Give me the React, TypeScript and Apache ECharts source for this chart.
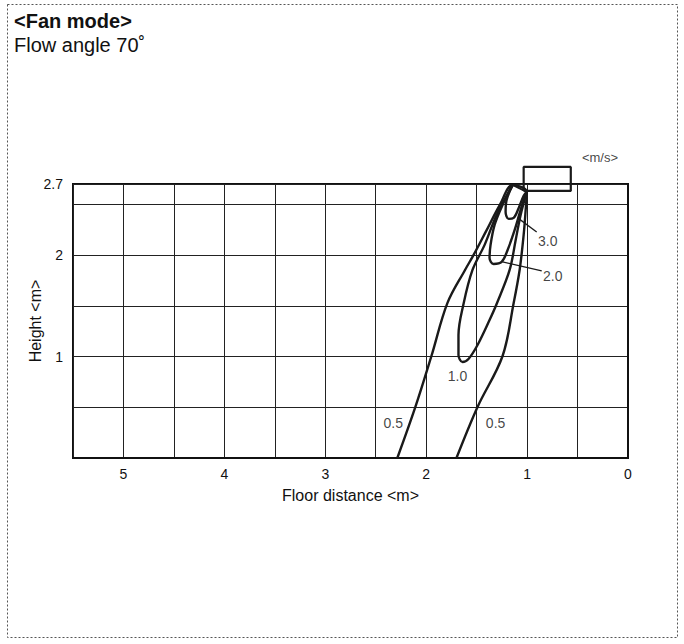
import React, { useEffect, useRef } from "react";
import * as echarts from "echarts";

// Axis tick labels shown
const xTickLabels = ["0", "1", "2", "3", "4", "5"];
const yTickLabels = ["1", "2", "2.7"];

// Velocity contours: [floor distance (m), height (m)]
const contour05: number[][] = [
  [2.286, 0], [2.107, 0.503], [1.948, 1.005], [1.789, 1.528], [1.615, 1.853],
  [1.53, 2.001], [1.41, 2.228], [1.27, 2.494], [1.143, 2.691],
  [1.004, 2.622], [1.014, 2.445], [1.034, 2.198], [1.074, 1.853],
  [1.133, 1.528], [1.243, 1.005], [1.491, 0.503], [1.7, 0],
];
const contour10: number[][] = [
  [1.143, 2.691], [1.302, 2.395], [1.421, 2.1], [1.541, 1.853], [1.63, 1.518],
  [1.68, 1.212], [1.68, 1.015], [1.64, 0.946], [1.581, 0.976], [1.491, 1.114],
  [1.372, 1.36], [1.302, 1.518], [1.173, 1.853], [1.113, 2.149], [1.064, 2.395],
  [1.004, 2.622],
];
const contour20: number[][] = [
  [1.143, 2.691], [1.243, 2.494], [1.322, 2.297], [1.362, 2.1], [1.372, 1.971],
  [1.332, 1.912], [1.252, 1.932], [1.193, 2.05], [1.123, 2.247], [1.064, 2.445],
  [1.004, 2.622],
];
const contour30: number[][] = [
  [1.143, 2.691], [1.203, 2.543], [1.213, 2.425], [1.183, 2.356], [1.133, 2.366],
  [1.083, 2.464], [1.034, 2.583], [1.004, 2.622],
];
const apexLink: number[][] = [[1.143, 2.691], [1.004, 2.622]];

// Leader lines for labels
const leader30: number[][] = [[1.093, 2.366], [0.905, 2.228]];
const leader20: number[][] = [[1.243, 1.932], [0.855, 1.843]];

// Contour labels
const contourLabels = [
  { name: "3.0", value: [0.795, 2.139] },
  { name: "2.0", value: [0.746, 1.794] },
  { name: "1.0", value: [1.69, 0.808] },
  { name: "0.5", value: [2.326, 0.345] },
  { name: "0.5", value: [1.312, 0.345] },
];
const unitLabel = [{ name: "<m/s>", value: [0.278, 2.957] }];

// Indoor unit outline
const unitOutline: number[][] = [
  [1.034, 2.632], [1.034, 2.868], [0.567, 2.868], [0.567, 2.632], [1.034, 2.632],
];

const FONT = "'Liberation Sans', Arial, Helvetica, sans-serif";

export default function App() {
  const ref = useRef<HTMLDivElement>(null);
  useEffect(() => {
    if (!ref.current) return;
    const chart = echarts.init(ref.current, undefined, { renderer: "svg" });
    const contourStyle = { color: "#1a1a1a", width: 2.4 };
    const mkContour = (data: number[][]) => ({
      type: "line",
      data,
      smooth: 0.35,
      symbol: "none",
      lineStyle: contourStyle,
      silent: true,
      z: 5,
    });
    const fmt = (labels: string[]) => (v: number) => {
      const s = String(Math.round(v * 100) / 100);
      return labels.indexOf(s) >= 0 ? s : "";
    };
    chart.setOption({
      animation: false,
      textStyle: { fontFamily: FONT },
      title: {
        left: 9,
        top: 6,
        text: "<Fan mode>",
        textStyle: { fontSize: 20, fontWeight: "bold", color: "#111", fontFamily: FONT },
        subtext: "Flow angle 70˚",
        subtextStyle: { fontSize: 20, color: "#111", fontFamily: FONT },
        itemGap: 4,
      },
      graphic: [
        {
          type: "rect",
          shape: { x: 7.5, y: 4.5, width: 670, height: 633 },
          style: { fill: "none", stroke: "#555", lineWidth: 1, lineDash: [2, 2] },
          silent: true,
        },
      ],
      grid: {
        left: 73,
        right: 56,
        top: 184,
        bottom: 186,
        show: true,
        borderColor: "#111",
        borderWidth: 2,
        backgroundColor: "transparent",
      },
      xAxis: {
        type: "value",
        min: 0,
        max: 5.5,
        interval: 0.5,
        inverse: true,
        name: "Floor distance <m>",
        nameLocation: "middle",
        nameGap: 29,
        nameMoveOverlap: false,
        nameTextStyle: { fontSize: 16, color: "#111", fontFamily: FONT },
        axisLine: { show: true, lineStyle: { color: "#111", width: 2 } },
        axisTick: { show: false },
        axisLabel: {
          formatter: fmt(xTickLabels),
          fontSize: 14,
          color: "#111",
          margin: 9,
          showMinLabel: true,
          showMaxLabel: true,
        },
        splitLine: { show: true, lineStyle: { color: "#222", width: 1 } },
      },
      yAxis: {
        type: "value",
        min: 0,
        max: 2.7,
        interval: 0.5,
        name: "Height <m>",
        nameLocation: "middle",
        nameGap: 30,
        nameMoveOverlap: false,
        nameTextStyle: { fontSize: 16, color: "#111", fontFamily: FONT },
        axisLine: { show: true, lineStyle: { color: "#111", width: 2 } },
        axisTick: { show: false },
        axisLabel: {
          formatter: fmt(yTickLabels),
          fontSize: 14,
          color: "#111",
          margin: 10,
          showMinLabel: true,
          showMaxLabel: true,
        },
        splitLine: { show: true, lineStyle: { color: "#222", width: 1 } },
      },
      series: [
        mkContour(contour05),
        mkContour(contour10),
        mkContour(contour20),
        mkContour(contour30),
        {
          type: "line",
          data: apexLink,
          symbol: "none",
          lineStyle: { color: "#1a1a1a", width: 2 },
          z: 5,
        },
        {
          type: "line",
          data: leader30,
          symbol: "none",
          lineStyle: { color: "#1a1a1a", width: 1.3 },
          z: 5,
        },
        {
          type: "line",
          data: leader20,
          symbol: "none",
          lineStyle: { color: "#1a1a1a", width: 1.3 },
          z: 5,
        },
        {
          type: "line",
          data: unitOutline,
          symbol: "none",
          clip: false,
          lineStyle: { color: "#1a1a1a", width: 2.2 },
          z: 6,
        },
        {
          type: "scatter",
          data: contourLabels,
          symbolSize: 1,
          itemStyle: { color: "rgba(0,0,0,0)" },
          label: {
            show: true,
            position: "inside",
            formatter: "{b}",
            fontSize: 14,
            color: "#111",
            fontFamily: FONT,
            backgroundColor: "#fff",
          },
          z: 7,
        },
        {
          type: "scatter",
          data: unitLabel,
          symbolSize: 1,
          clip: false,
          itemStyle: { color: "rgba(0,0,0,0)" },
          label: {
            show: true,
            position: "inside",
            formatter: "{b}",
            fontSize: 13,
            color: "#111",
            fontFamily: FONT,
          },
          z: 7,
        },
      ],
    });
    return () => chart.dispose();
  }, []);
  return (
    <div
      ref={ref}
      style={{ position: "absolute", left: 0, top: 0, width: 684, height: 644, background: "#fff" }}
    />
  );
}
